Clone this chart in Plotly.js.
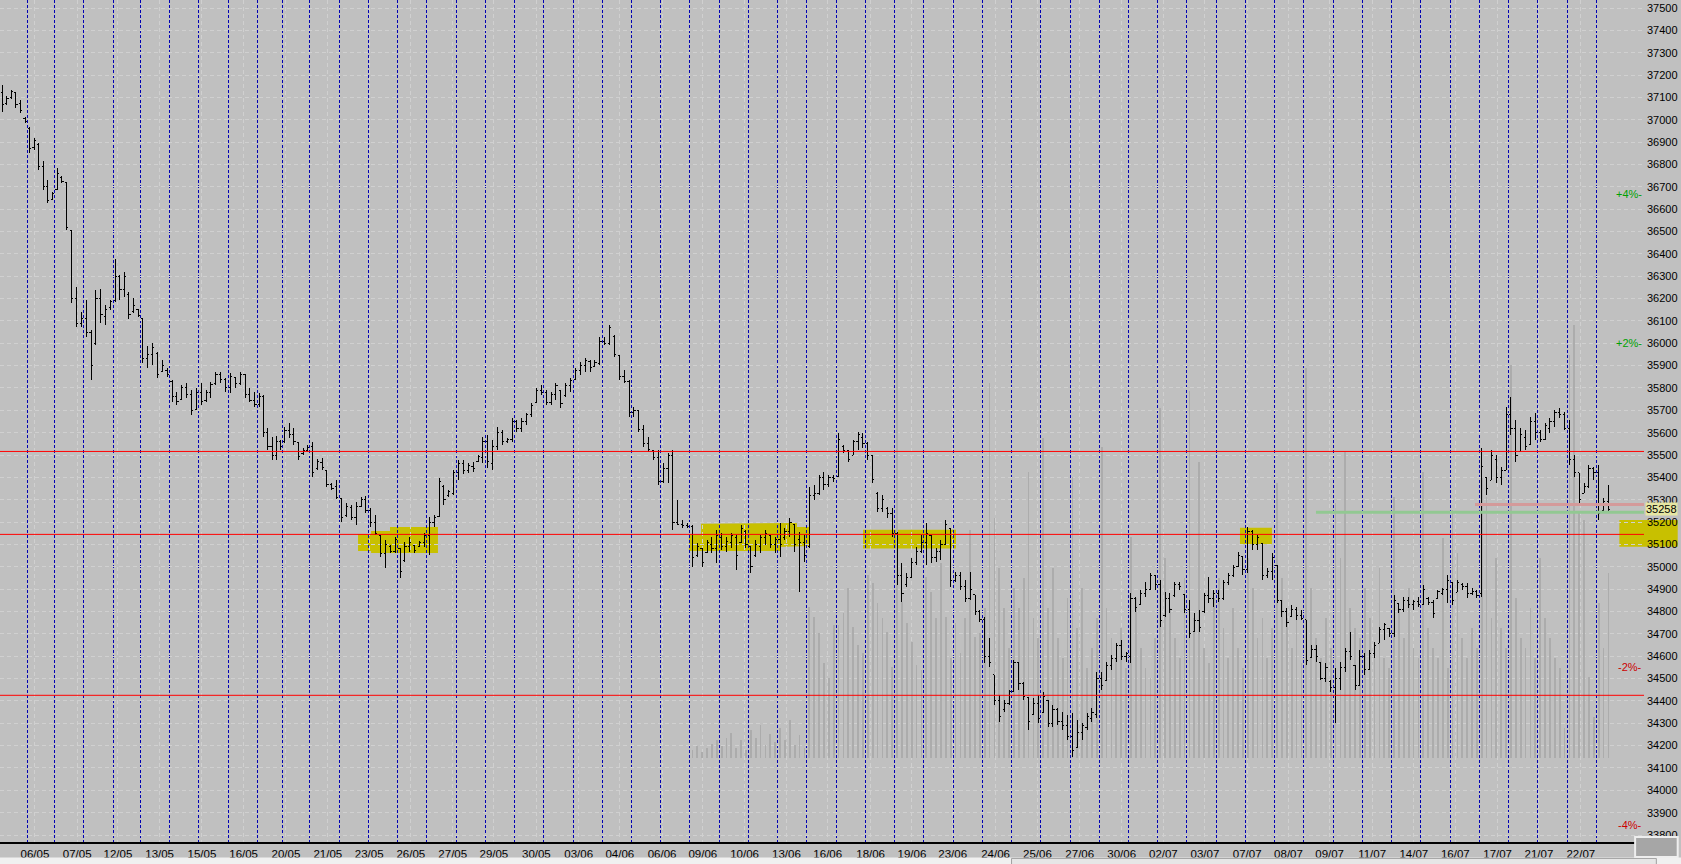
<!DOCTYPE html>
<html><head><meta charset="utf-8">
<script src="https://cdn.plot.ly/plotly-3.0.1.min.js"></script>
<style>html,body{margin:0;padding:0;background:#c0c0c0;overflow:hidden}#chart{width:1681px;height:864px}
#chart .ohlclayer path{shape-rendering:crispEdges}</style>
</head><body><div id="chart"></div>
<script>
// session lengths (in bar slots) and number of plotted bars per session
const sessionSlots = [14,14,15,15,14,15,15,15,15,13,14,15,
 15,15,15,15,15,15,15,15,15,15,15,15,15,15,15,15,15,15,15,15,15,15,15,15,15,15,15,15,15,15,15,15,15,15,15,15,15,15,15,15,15,15,15,
 7.5];
const sessionBars = [6,6,6,6,6,6,6,6,6,6,6,6,6,6,6,6,6,6,6,6,6,6,6,6,6,6,6,6,6,6,6,6,6,6,6,6,6,6,6,6,6,6,6,6,6,6,6,6,6,6,6,6,6,6,6,3];

const high = [
37156,37106,37133,37124,37088,37012, 36968,36918,36896,36815,36730,36677, 36784,36748,36722,36507,36252,36140,
36194,36060,36238,36243,36171,36194, 36377,36305,36319,36229,36203,36153, 36113,35988,36001,35961,35925,35889,
35836,35782,35813,35822,35791,35800, 35822,35791,35827,35872,35872,35845, 35867,35849,35872,35863,35800,35782,
35778,35769,35621,35581,35585,35567, 35625,35643,35621,35554,35531,35545, 35558,35482,35487,35433,35375,35388,
35308,35285,35277,35290,35312,35317, 35263,35232,35142,35120,35098,35133, 35084,35111,35133,35098,35115,35151,
35223,35232,35397,35366,35344,35433, 35478,35478,35464,35469,35500,35581, 35590,35567,35625,35612,35576,35666,
35657,35666,35688,35733,35800,35813, 35791,35782,35822,35791,35822,35845, 35889,35916,35934,35925,35925,36028,
36028,36082,36037,35948,35880,35836, 35715,35702,35634,35581,35523,35523, 35464,35509,35523,35299,35209,35196,
35187,35106,35084,35120,35133,35165, 35151,35133,35151,35142,35187,35165, 35089,35120,35142,35165,35142,35133,
35196,35174,35218,35187,35156,35142, 35357,35366,35411,35424,35411,35411, 35599,35545,35523,35567,35603,35599,
35558,35500,35335,35321,35268,35263, 35156,35017,34972,35039,35089,35142, 35196,35142,35084,35120,35209,35174,
34977,34977,34941,34977,34874,34807, 34775,34681,34516,34426,34404,34449, 34583,34570,34485,34417,34413,34426,
34440,34404,34382,34368,34350,34337, 34346,34314,34301,34346,34368,34529, 34529,34574,34605,34659,34672,34619,
34883,34865,34896,34932,34972,34963, 34941,34887,34883,34932,34932,34874, 34851,34793,34807,34883,34954,34896,
34896,34941,34972,35008,35066,35044, 35178,35165,35142,35106,34995,35062, 35008,34851,34816,34829,34820,34807,
34762,34650,34650,34570,34570,34493, 34547,34574,34637,34708,34561,34628, 34614,34628,34664,34731,34749,34726,
34874,34838,34865,34865,34851,34865, 34919,34865,34851,34896,34905,34963, 34932,34941,34927,34927,34905,34896,
35531,35402,35523,35500,35446,35715, 35760,35657,35621,35612,35670,35688, 35612,35643,35666,35702,35711,35693,
35657,35500,35420,35375,35455,35446, 35455,35308,35366];

const low = [
37035,37066,37093,37053,37030,36985, 36851,36865,36775,36686,36628,36641, 36686,36717,36507,36180,36073,36073,
36028,35836,35992,36091,36082,36149, 36185,36194,36207,36109,36135,36118, 35912,35889,35903,35845,35871,35849,
35737,35724,35746,35755,35679,35702, 35724,35737,35755,35813,35822,35782, 35778,35800,35813,35755,35737,35715,
35715,35581,35523,35478,35478,35523, 35554,35576,35545,35478,35500,35514, 35402,35433,35433,35357,35344,35303,
35200,35223,35209,35187,35268,35241, 35178,35142,35044,34995,35062,35062, 34950,35021,35066,35062,35089,35089,
35053,35178,35223,35276,35312,35321, 35388,35415,35420,35424,35469,35464, 35442,35433,35523,35545,35554,35558,
35603,35603,35634,35670,35733,35769, 35724,35724,35746,35710,35760,35782, 35836,35858,35872,35872,35894,35903,
35992,35992,35939,35836,35822,35670, 35670,35603,35536,35514,35478,35366, 35375,35375,35165,35187,35174,35174,
35000,35044,35000,35062,35062,35017, 35075,35066,35084,34986,35106,35084, 34972,35044,35062,35098,35084,35062,
35044,35120,35133,35066,34887,35021, 35084,35299,35321,35344,35357,35379, 35402,35509,35469,35500,35523,35531,
35478,35375,35245,35245,35218,35133, 34919,34842,34910,34950,35008,35062, 35008,35017,35021,35030,35098,34910,
34932,34896,34842,34851,34784,34753, 34570,34552,34382,34306,34350,34382, 34440,34449,34404,34270,34337,34301,
34346,34283,34283,34292,34270,34225, 34149,34189,34225,34270,34306,34324, 34449,34493,34538,34574,34583,34574,
34570,34798,34829,34865,34896,34896, 34731,34776,34793,34865,34896,34793, 34681,34708,34708,34793,34838,34820,
34843,34851,34919,34954,34999,34963, 34972,35075,35075,34941,34950,34941, 34838,34776,34731,34776,34762,34762,
34561,34592,34574,34493,34485,34440, 34301,34449,34529,34583,34449,34471, 34516,34538,34592,34659,34672,34686,
34686,34793,34798,34816,34807,34820, 34829,34829,34771,34860,34874,34838, 34829,34887,34896,34860,34874,34860,
34865,35321,35388,35375,35366,35433, 35590,35469,35514,35523,35545,35567, 35558,35567,35599,35625,35666,35612,
35455,35402,35286,35330,35353,35388, 35209,35254,35245];

const open = [
37120,37075,37100,37120,37075,37005, 36960,36875,36890,36790,36700,36645, 36690,36740,36720,36505,36200,36090,
36110,36050,36000,36200,36120,36160, 36190,36300,36240,36220,36140,36150, 36110,35930,35950,35955,35875,35880,
35830,35760,35750,35800,35770,35705, 35780,35745,35780,35820,35860,35840, 35800,35845,35820,35860,35770,35745,
35725,35760,35600,35540,35500,35560, 35560,35610,35590,35554,35505,35520, 35540,35440,35465,35433,35370,35360,
35305,35230,35265,35220,35270,35300, 35250,35200,35140,35060,35090,35070, 35080,35030,35090,35095,35090,35110,
35140,35200,35225,35360,35320,35330, 35420,35460,35430,35450,35470,35490, 35560,35460,35540,35600,35560,35570,
35650,35620,35650,35680,35735,35790, 35780,35735,35770,35790,35765,35810, 35840,35880,35900,35920,35895,35910,
36010,36000,36030,35945,35850,35830, 35690,35700,35615,35550,35520,35490, 35380,35440,35500,35200,35190,35185,
35180,35050,35084,35065,35100,35080, 35130,35090,35110,35130,35110,35160, 35089,35050,35090,35130,35140,35100,
35120,35130,35160,35187,35120,35110, 35090,35320,35330,35400,35370,35400, 35402,35540,35520,35500,35560,35580,
35550,35500,35330,35260,35260,35240, 35150,34960,34920,34950,35020,35070, 35110,35140,35040,35070,35100,35170,
34940,34960,34910,34860,34874,34800, 34765,34600,34516,34400,34360,34390, 34440,34570,34480,34417,34340,34390,
34350,34404,34300,34360,34310,34290, 34240,34190,34260,34280,34320,34340, 34500,34493,34560,34590,34650,34600,
34600,34860,34830,34880,34900,34960, 34920,34780,34860,34870,34920,34874, 34810,34710,34760,34800,34870,34860,
34880,34860,34930,34960,35000,35044, 34990,35160,35100,35106,34960,34980, 35008,34850,34800,34776,34810,34780,
34762,34592,34630,34570,34500,34485, 34460,34500,34550,34620,34560,34471, 34600,34540,34610,34659,34720,34726,
34700,34838,34810,34850,34830,34845, 34830,34860,34840,34860,34880,34900, 34930,34887,34920,34910,34880,34890,
34880,35400,35388,35480,35400,35433, 35680,35620,35514,35580,35545,35650, 35600,35570,35620,35650,35690,35680,
35620,35480,35420,35330,35360,35440, 35420,35254,35290];

const close = [
37070,37095,37125,37070,37040,36990, 36870,36905,36790,36700,36640,36670, 36760,36725,36520,36200,36090,36110,
36050,35900,36200,36130,36150,36185, 36300,36240,36300,36130,36170,36125, 35930,35950,35980,35860,35900,35860,
35760,35740,35800,35770,35700,35780, 35740,35780,35815,35860,35840,35800, 35850,35820,35860,35770,35745,35725,
35760,35600,35540,35500,35560,35540, 35610,35590,35560,35495,35520,35535, 35420,35470,35445,35370,35350,35310,
35220,35270,35220,35270,35300,35250, 35200,35150,35060,35100,35070,35120, 34980,35090,35110,35075,35110,35140,
35200,35220,35380,35300,35335,35420, 35460,35430,35455,35440,35495,35560, 35470,35540,35600,35560,35570,35650,
35620,35650,35680,35720,35790,35780, 35735,35770,35810,35730,35810,35835, 35880,35900,35925,35890,35915,36010,
36000,36070,35950,35850,35830,35690, 35700,35615,35550,35525,35490,35380, 35440,35500,35200,35190,35185,35180,
35040,35090,35020,35110,35080,35140, 35090,35115,35140,35050,35170,35100, 35000,35100,35130,35150,35100,35120,
35100,35160,35200,35100,35110,35050, 35320,35330,35400,35370,35400,35395, 35570,35520,35480,35560,35590,35550,
35500,35390,35260,35300,35240,35150, 34960,34880,34950,35020,35070,35110, 35150,35040,35070,35100,35190,34940,
34960,34910,34860,34900,34800,34765, 34600,34570,34400,34330,34390,34440, 34570,34480,34420,34310,34390,34320,
34420,34300,34360,34310,34290,34240, 34180,34260,34290,34330,34350,34500, 34470,34560,34590,34650,34600,34610,
34860,34820,34880,34900,34960,34920, 34760,34860,34810,34920,34910,34810, 34700,34760,34730,34870,34860,34880,
34860,34930,34960,34995,35050,34990, 35160,35100,35130,34960,34980,35040, 34850,34800,34750,34810,34780,34770,
34580,34630,34600,34500,34550,34460, 34500,34550,34620,34600,34470,34600, 34540,34610,34650,34720,34740,34700,
34850,34810,34850,34830,34845,34830, 34900,34840,34790,34890,34900,34940, 34850,34930,34910,34880,34890,34870,
35450,35350,35500,35400,35430,35680, 35620,35500,35590,35540,35650,35600, 35570,35630,35650,35690,35680,35620,
35480,35420,35300,35360,35440,35420, 35240,35290,35258];

// volume, starting at session 24
const volumeFirstSession = 24;
const volume = [
80,120,60,100,140,180, 120,200,250,100,180,80, 280,200,330,130,240,160, 300,180,380,130,230,100,
1510,1410,1250,950,800,1330, 1330,1450,1700,1310,1130,1050, 1830,1750,1550,1400,1260,910,
4780,1560,1350,1160,930,880, 1810,1660,1400,1950,1410,1000, 1350,1050,1400,2280,1210,1250,
1500,3750,2400,1900,1500,1100, 1700,1500,1800,2860,1400,1200, 3200,1500,1900,1200,1000,1600,
2810,1300,1700,900,1100,1400, 3110,1500,1200,1000,1300,900, 2210,1600,1100,900,800,1200,
3500,2000,1500,1200,1000,1800, 3670,1400,2960,1100,950,1600, 1800,1300,1000,1500,1100,900,
2000,1700,1200,1400,1000,1300, 2750,1800,1400,1100,1500,950, 3900,1700,1200,1000,1400,1100,
2550,2000,3060,1500,1300,1200, 1700,1400,1100,1900,1000,900, 2610,1500,1200,1700,1100,1000,
2860,1300,1100,1000,2200,900, 2480,2050,1200,1000,1300,1100, 2800,2610,1400,2000,1300,1100,
3930,1600,1200,1100,1500,1000, 2000,1400,1200,1000,900,300, 4030,4330,2460,2380,810,410,
1550,1100,1850];

const labelSlots = [17.9,39.6,60.5,81.9,103.6,125.0,146.7,168.2,189.4,210.8,232.3,253.4,275.2,296.9,318.0,339.7,360.6,382.0,403.5,424.7,
 446.7,467.9,488.8,510.8,532.3,554.0,575.5,596.9,618.2,639.9,661.1,682.2,704.0,725.4,746.7,768.4,789.6,811.1];
const labelDates = ['06/05','07/05','12/05','13/05','15/05','16/05','20/05','21/05','23/05','26/05','27/05','29/05','30/05','03/06','04/06','06/06','09/06','10/06','13/06','16/06',
 '18/06','19/06','23/06','24/06','25/06','27/06','30/06','02/07','03/07','07/07','08/07','09/07','11/07','14/07','16/07','17/07','21/07','22/07'];

const redLevels = [35516, 35145, 34425];
const lastPrice = 35258;
const pinkLevel = 35279, pinkFromSlot = 756.8;
const greenLevel = 35244, greenFromSlot = 675.2;
const pctLabels = ['+4%-','+2%-','-2%-','-4%-'];
const pctLevels = [36668, 36000, 34550, 33845];
const pctColors = ['#00a000','#00a000','#cc0000','#cc0000'];

// bar positions from session structure
const barX = [], sessionStart = [];
let pos = 0;
sessionSlots.forEach((len, i) => {
  sessionStart.push(pos);
  for (let k = 0; k < sessionBars[i]; k++) barX.push(pos + (k + 0.5) * len / sessionBars[i]);
  pos += len;
});
let volOffset = 0;
for (let i = 0; i < volumeFirstSession; i++) volOffset += sessionBars[i];
const volX = barX.slice(volOffset, volOffset + volume.length);

const SLOT_RANGE = [0, 843.5];
const PRICE_RANGE = [33768.7, 37535.8];
const FONT = 'Liberation Sans, Arial, sans-serif';

const traces = [
  {type:'bar', x: volX, y: volume, xaxis:'x', yaxis:'y', width:0.9,
   marker:{color:'#acacac', line:{width:0}}, hoverinfo:'skip', showlegend:false},
  {type:'ohlc', x: barX, open: open, high: high, low: low, close: close, xaxis:'x2', yaxis:'y2',
   increasing:{line:{color:'#000000', width:1}}, decreasing:{line:{color:'#000000', width:1}},
   tickwidth:0.4, hoverinfo:'skip', showlegend:false}
];

const Y = '#c8c000';
const shapes = [
  {type:'path', xref:'x2', yref:'y2', layer:'below', fillcolor:Y, line:{width:0},
   path:'M183.7,35147 L190.4,35147 L190.4,35160 L200.1,35160 L200.1,35178 L224.7,35178 L224.7,35062 L190.4,35062 L190.4,35071 L183.7,35071 Z'},
  {type:'path', xref:'x2', yref:'y2', layer:'below', fillcolor:Y, line:{width:0},
   path:'M353.5,35142 L359.7,35142 L359.7,35192 L408.9,35196 L408.9,35178 L415.1,35178 L415.1,35093 L400.2,35089 L400.2,35071 L353.5,35071 Z'},
  {type:'rect', xref:'x2', yref:'y2', layer:'below', fillcolor:Y, line:{width:0}, x0:442.8, x1:490.5, y0:35082, y1:35166},
  {type:'rect', xref:'x2', yref:'y2', layer:'below', fillcolor:Y, line:{width:0}, x0:636.2, x1:652.6, y0:35102, y1:35175},
  {type:'rect', xref:'paper', yref:'y2', layer:'below', fillcolor:Y, line:{width:0}, x0:0.985, x1:1.0205, y0:35090, y1:35209},
];
redLevels.forEach(v => shapes.push({type:'line', xref:'paper', yref:'y2', layer:'above', x0:0, x1:1, y0:v, y1:v, line:{color:'#ff0000', width:1}}));
shapes.push({type:'line', xref:'x2', yref:'y2', layer:'above', x0:pinkFromSlot, x1:SLOT_RANGE[1], y0:pinkLevel, y1:pinkLevel, line:{color:'#d49a9a', width:3}});
shapes.push({type:'line', xref:'x2', yref:'y2', layer:'above', x0:greenFromSlot, x1:SLOT_RANGE[1], y0:greenLevel, y1:greenLevel, line:{color:'#92c892', width:3}});
// scrollbar and corner button
shapes.push({type:'rect', xref:'paper', yref:'paper', layer:'above', x0:-0.01, x1:1.03, y0:-0.0185, y1:-0.03, fillcolor:'#f0f0f0', line:{width:0}});
shapes.push({type:'rect', xref:'paper', yref:'paper', layer:'above', x0:0.6153, x1:1.0075, y0:-0.0195, y1:-0.03, fillcolor:'#e6e6e6', line:{color:'#a0a0a0', width:1}});
shapes.push({type:'rect', xref:'paper', yref:'paper', layer:'above', x0:0.9946, x1:1.0205, y0:0.006, y1:-0.0178, fillcolor:'#a6a6a6', line:{color:'#eeeeee', width:2}});

const annotations = pctLabels.map((t, i) => ({xref:'paper', yref:'y2', x:1, y:pctLevels[i], text:t, showarrow:false,
  xanchor:'right', yanchor:'middle', font:{family:FONT, size:11, color:pctColors[i]}}));
annotations.push({xref:'paper', yref:'y2', x:1.0006, y:lastPrice, text:String(lastPrice), showarrow:false,
  xanchor:'left', yanchor:'middle', bgcolor:'#e6e6a2', borderpad:0, font:{family:FONT, size:11, color:'#000'}});

const layout = {
  width:1681, height:864,
  margin:{l:0, r:37, t:0, b:22, pad:0},
  paper_bgcolor:'#c0c0c0', plot_bgcolor:'#c0c0c0',
  font:{family:FONT, size:11, color:'#000'},
  showlegend:false, bargap:0,
  xaxis:{range:SLOT_RANGE, tickmode:'array', tickvals:labelSlots, ticktext:labelDates, ticks:'',
    showgrid:true, gridcolor:'#d0d0d0', griddash:'4px,3px', gridwidth:1, zeroline:false,
    showline:true, linecolor:'#000', linewidth:2, tickfont:{family:FONT, size:11.5, color:'#000'},
    rangeslider:{visible:false}, fixedrange:true},
  xaxis2:{range:SLOT_RANGE, overlaying:'x', tickmode:'array', tickvals:sessionStart, showticklabels:false, ticks:'',
    showgrid:true, gridcolor:'#0000b4', griddash:'3px,2px', gridwidth:1, zeroline:false, showline:false,
    rangeslider:{visible:false}, fixedrange:true},
  yaxis:{range:[-842, 7578], visible:false, showgrid:false, zeroline:false, fixedrange:true},
  yaxis2:{range:PRICE_RANGE, overlaying:'y', side:'right', tickmode:'linear', tick0:0, dtick:100, ticks:'',
    tickformat:'d', separatethousands:false,
    showgrid:true, gridcolor:'#d0d0d0', griddash:'4px,3px', gridwidth:1, zeroline:false, showline:false,
    tickfont:{family:FONT, size:11, color:'#000'}, ticklabelstandoff:2, fixedrange:true},
  shapes: shapes,
  annotations: annotations
};

Plotly.newPlot('chart', traces, layout, {displayModeBar:false, staticPlot:true});
</script>
</body></html>
